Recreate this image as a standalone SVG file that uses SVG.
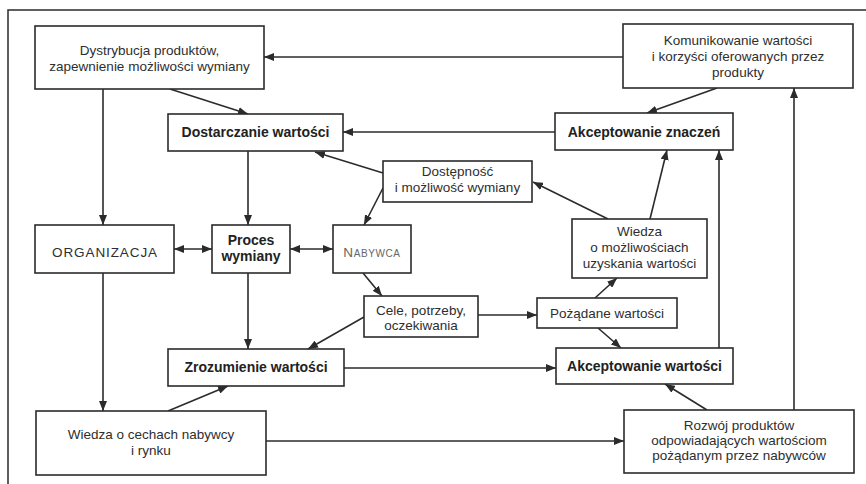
<svg xmlns="http://www.w3.org/2000/svg" width="866" height="484" viewBox="0 0 866 484">
<style>
.box{fill:#fff;stroke:#2b2b2b;stroke-width:1.6}
.t{font-family:"Liberation Sans",Arial,sans-serif;font-size:13.5px;fill:#2e2e2e;text-anchor:middle}
.b{font-weight:bold;font-size:14px;fill:#222}
.c{fill:none;stroke:#2b2b2b;stroke-width:1.6;marker-end:url(#ah)}
.d{marker-start:url(#ah)}
.frame{fill:none;stroke:#2b2b2b;stroke-width:1.5}
</style>
<defs>
<marker id="ah" viewBox="0 0 10 8" refX="10" refY="4" markerWidth="10" markerHeight="8" markerUnits="userSpaceOnUse" orient="auto-start-reverse">
<path d="M0,0 L10,4 L0,8 z" fill="#2b2b2b"/>
</marker>
</defs>
<rect width="866" height="484" fill="#fff"/>
<path class="frame" d="M8,484 L8,10 L866,10"/>

<g id="connectors">
<path class="c" d="M623,57 L264,57"/>
<path class="c" d="M170,89 L248,114"/>
<path class="c" d="M555,132 L343,132"/>
<path class="c" d="M717,88 L647,113"/>
<path class="c" d="M248,151 L248,225"/>
<path class="c" d="M103,89 L103,225"/>
<path class="c" d="M383,173 L315,152"/>
<path class="c" d="M383,188 L364,225"/>
<path class="c" d="M608,219 L533,182"/>
<path class="c" d="M650,219 L667,150"/>
<path class="c" d="M719,348 L719,150"/>
<path class="c" d="M794,410 L794,88"/>
<path class="c d" d="M174,249 L212,249"/>
<path class="c d" d="M290,249 L333,249"/>
<path class="c" d="M363,273 L382,296"/>
<path class="c" d="M478,315 L537,315"/>
<path class="c" d="M595,298 L617,278"/>
<path class="c" d="M364,317 L308,349"/>
<path class="c" d="M248,273 L248,349"/>
<path class="c" d="M103,273 L103,411"/>
<path class="c" d="M168,411 L228,386"/>
<path class="c" d="M344,368 L556,368"/>
<path class="c" d="M598,328 L621,348"/>
<path class="c" d="M266,441 L624,441"/>
<path class="c" d="M707,410 L665,384"/>
</g>

<g id="dystrybucja">
<rect class="box" x="35" y="26" width="229" height="63"/>
<text class="t" x="149.5" y="55">Dystrybucja produktów,</text>
<text class="t" x="149.5" y="71">zapewnienie możliwości wymiany</text>
</g>
<g id="komunikowanie">
<rect class="box" x="623" y="24" width="230" height="64"/>
<text class="t" x="738" y="45">Komunikowanie wartości</text>
<text class="t" x="738" y="61">i korzyści oferowanych przez</text>
<text class="t" x="738" y="77">produkty</text>
</g>
<g id="dostarczanie">
<rect class="box" x="168" y="114" width="175" height="37"/>
<text class="t b" x="255.5" y="137">Dostarczanie wartości</text>
</g>
<g id="akceptowanie-znaczen">
<rect class="box" x="555" y="113" width="178" height="37"/>
<text class="t b" x="644" y="137">Akceptowanie znaczeń</text>
</g>
<g id="dostepnosc">
<rect class="box" x="383" y="161" width="149" height="41"/>
<text class="t" x="457.5" y="176">Dostępność</text>
<text class="t" x="457.5" y="192">i możliwość wymiany</text>
</g>
<g id="organizacja">
<rect class="box" x="35" y="225" width="139" height="48"/>
<text class="t" x="105" y="257" style="letter-spacing:0.9px">ORGANIZACJA</text>
</g>
<g id="proces">
<rect class="box" x="212" y="225" width="78" height="48"/>
<text class="t b" x="251" y="245">Proces</text>
<text class="t b" x="251" y="261">wymiany</text>
</g>
<g id="nabywca">
<rect class="box" x="333" y="225" width="78" height="48"/>
<text class="t" x="372" y="257" style="fill:#666;letter-spacing:0.6px">N<tspan style="font-size:10px">ABYWCA</tspan></text>
</g>
<g id="wiedza-mozliwosci">
<rect class="box" x="572" y="219" width="135" height="59"/>
<text class="t" x="639.5" y="236">Wiedza</text>
<text class="t" x="639.5" y="252">o możliwościach</text>
<text class="t" x="639.5" y="268">uzyskania wartości</text>
</g>
<g id="cele">
<rect class="box" x="364" y="296" width="114" height="41"/>
<text class="t" x="421" y="315">Cele, potrzeby,</text>
<text class="t" x="421" y="330">oczekiwania</text>
</g>
<g id="pozadane">
<rect class="box" x="537" y="298" width="140" height="30"/>
<text class="t" x="607" y="318">Pożądane wartości</text>
</g>
<g id="zrozumienie">
<rect class="box" x="168" y="349" width="176" height="37"/>
<text class="t b" x="256" y="372">Zrozumienie wartości</text>
</g>
<g id="akceptowanie-wartosci">
<rect class="box" x="556" y="348" width="177" height="36"/>
<text class="t b" x="644.5" y="371">Akceptowanie wartości</text>
</g>
<g id="wiedza-cechy">
<rect class="box" x="36" y="411" width="230" height="64"/>
<text class="t" x="151" y="439">Wiedza o cechach nabywcy</text>
<text class="t" x="151" y="455">i rynku</text>
</g>
<g id="rozwoj">
<rect class="box" x="624" y="410" width="230" height="63"/>
<text class="t" x="739" y="430">Rozwój produktów</text>
<text class="t" x="739" y="445">odpowiadających wartościom</text>
<text class="t" x="739" y="460">pożądanym przez nabywców</text>
</g>
</svg>
